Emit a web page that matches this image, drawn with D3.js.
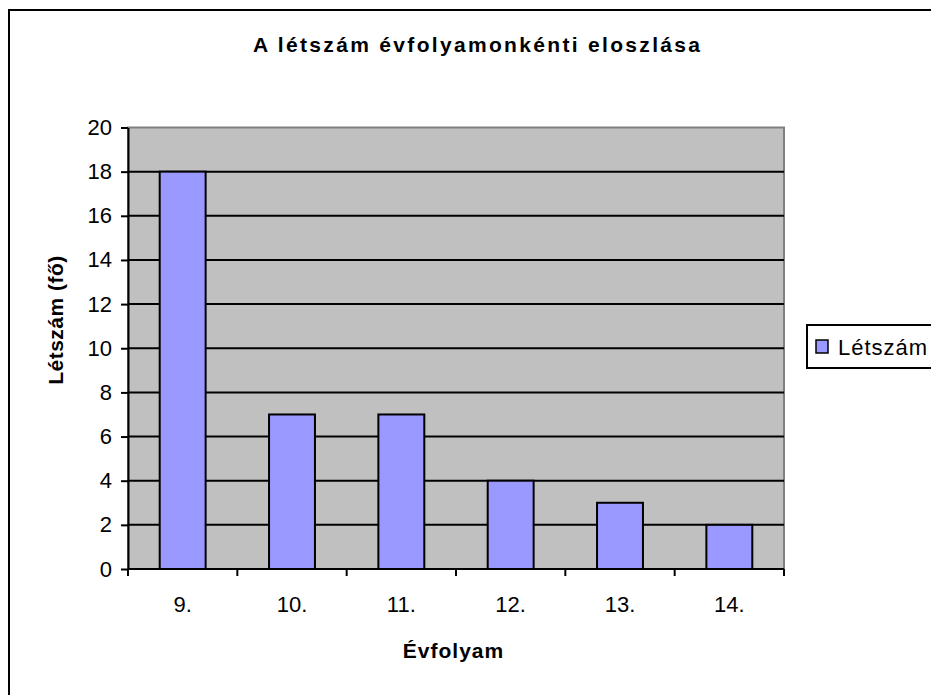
<!DOCTYPE html>
<html>
<head>
<meta charset="utf-8">
<script src="https://cdn.jsdelivr.net/npm/d3@7"></script>
<style>
  body { margin: 0; background: #fff; }
  svg { display: block; font-family: "Liberation Sans", Arial, sans-serif; }
</style>
</head>
<body>
<svg id="chart" width="931" height="695"></svg>
<script>
// data
var categories = ["9.", "10.", "11.", "12.", "13.", "14."];
var letszam    = [18, 7, 7, 4, 3, 2];
var yTicks     = [0, 2, 4, 6, 8, 10, 12, 14, 16, 18, 20];
var seriesName = "Létszám";

var svg = d3.select("#chart");

// outer chart frame (runs off the right and bottom edges)
svg.append("rect")
  .attr("x", 9).attr("y", 10)
  .attr("width", 940).attr("height", 700)
  .attr("fill", "#fff")
  .attr("stroke", "#000")
  .attr("stroke-width", 2);

var plotLeft = 128, plotRight = 784, plotTop = 127.5, plotBottom = 569;

var x = d3.scaleBand().domain(categories).range([plotLeft, plotRight]).paddingInner(0.58).paddingOuter(0.29);
var xc = d3.scaleBand().domain(categories).range([plotLeft, plotRight]);
var y = d3.scaleLinear().domain([0, 20]).range([plotBottom, plotTop]);

// plot area
svg.append("rect")
  .attr("x", plotLeft).attr("y", plotTop)
  .attr("width", plotRight - plotLeft).attr("height", plotBottom - plotTop)
  .attr("fill", "#c0c0c0")
  .attr("stroke", "#808080")
  .attr("stroke-width", 2);

// gridlines
svg.append("g")
  .selectAll("line")
  .data(yTicks.filter(function (d) { return d > 0 && d < 20; }))
  .enter().append("line")
  .attr("x1", plotLeft).attr("x2", plotRight)
  .attr("y1", function (d) { return y(d); })
  .attr("y2", function (d) { return y(d); })
  .attr("stroke", "#000")
  .attr("stroke-width", 2);

// bars
svg.append("g")
  .selectAll("rect")
  .data(letszam)
  .enter().append("rect")
  .attr("x", function (d, i) { return x(categories[i]); })
  .attr("y", function (d) { return y(d); })
  .attr("width", x.bandwidth())
  .attr("height", function (d) { return plotBottom - y(d); })
  .attr("fill", "#9999ff")
  .attr("stroke", "#000")
  .attr("stroke-width", 2);

// y axis
var yAxis = svg.append("g")
  .attr("transform", "translate(" + plotLeft + ",0)")
  .call(d3.axisLeft(y).tickValues(yTicks).tickSize(7).tickPadding(9).tickSizeOuter(0));
yAxis.select(".domain").attr("stroke", "#000").attr("stroke-width", 2);
yAxis.selectAll(".tick line").attr("stroke-width", 2);
yAxis.selectAll(".tick text")
  .attr("font-size", "22px")
  .attr("font-family", "Liberation Sans, Arial, sans-serif")
  .attr("fill", "#000");

// x axis: ticks on category boundaries
var xAxis = svg.append("g")
  .attr("transform", "translate(0," + plotBottom + ")");
xAxis.append("line")
  .attr("x1", plotLeft).attr("x2", plotRight)
  .attr("stroke", "#000").attr("stroke-width", 2);
var bounds = categories.map(function (c) { return xc(c); }).concat([plotRight]);
xAxis.selectAll(".xt")
  .data(bounds)
  .enter().append("line")
  .attr("x1", function (d) { return d; })
  .attr("x2", function (d) { return d; })
  .attr("y1", 0).attr("y2", 7)
  .attr("stroke", "#000").attr("stroke-width", 2);
xAxis.selectAll("text")
  .data(categories)
  .enter().append("text")
  .attr("x", function (d) { return xc(d) + xc.bandwidth() / 2; })
  .attr("y", 43)
  .attr("text-anchor", "middle")
  .attr("font-size", "22px")
  .text(function (d) { return d; });

// title
svg.append("text")
  .attr("x", 476.5).attr("y", 52)
  .attr("text-anchor", "middle")
  .attr("font-size", "21px")
  .attr("font-weight", "bold")
  .attr("textLength", 447)
  .attr("lengthAdjust", "spacing")
  .text("A létszám évfolyamonkénti eloszlása");

// axis titles
svg.append("text")
  .attr("x", 453.5).attr("y", 658)
  .attr("text-anchor", "middle")
  .attr("font-size", "21px")
  .attr("font-weight", "bold")
  .attr("letter-spacing", "1px")
  .text("Évfolyam");

svg.append("text")
  .attr("transform", "translate(63,320) rotate(-90)")
  .attr("text-anchor", "middle")
  .attr("font-size", "21px")
  .attr("font-weight", "bold")
  .attr("letter-spacing", "0.5px")
  .text("Létszám (fő)");

// legend
var legend = svg.append("g");
legend.append("rect")
  .attr("x", 807).attr("y", 325)
  .attr("width", 140).attr("height", 43)
  .attr("fill", "#fff")
  .attr("stroke", "#000")
  .attr("stroke-width", 2);
legend.append("rect")
  .attr("x", 816).attr("y", 340)
  .attr("width", 12).attr("height", 13)
  .attr("fill", "#9999ff")
  .attr("stroke", "#000")
  .attr("stroke-width", 1.5);
legend.append("text")
  .attr("x", 838).attr("y", 355)
  .attr("font-size", "22px")
  .attr("letter-spacing", "1px")
  .text(seriesName);
</script>
</body>
</html>
